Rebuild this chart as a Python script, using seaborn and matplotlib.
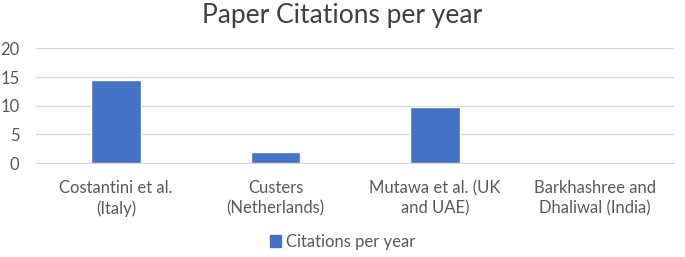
import pandas as pd
import seaborn as sns
import matplotlib.pyplot as plt
from matplotlib.patches import Patch

papers = ['Costantini et al.\n(Italy)', 'Custers\n(Netherlands)',
          'Mutawa et al. (UK\nand UAE)', 'Barkhashree and\nDhaliwal (India)']
citations = [14.5, 2.0, 9.7, 0.0]
series_name = 'Citations per year'

datos = pd.DataFrame({'paper': papers, 'citations': citations})

sns.set_style('white')
plt.rcParams['font.family'] = ['Lato', 'DejaVu Sans']

fig = plt.figure(figsize=(6.85, 2.57), dpi=100)
ax = fig.add_axes([0.0526, 0.365, 0.932, 0.447])

azul = '#4472C4'
sns.barplot(data=datos, x='paper', y='citations', color=azul, width=0.31,
            saturation=1, ax=ax, zorder=3)

ax.set_ylim(0, 20)
ax.set_yticks([0, 5, 10, 15, 20])
ax.yaxis.grid(True, color='#D9D9D9', linewidth=1, zorder=0)
ax.set_xlabel('')
ax.set_ylabel('')
for s in ['top', 'right', 'left']:
    ax.spines[s].set_visible(False)
ax.spines['bottom'].set_color('#D9D9D9')
ax.tick_params(axis='both', length=0, labelsize=12, labelcolor='#595959')
ax.tick_params(axis='x', pad=12)
ax.tick_params(axis='y', pad=12)
for lbl in ax.get_xticklabels():
    lbl.set_linespacing(1.35)
    lbl.set_horizontalalignment('center')

fig.suptitle('Paper Citations per year', fontsize=19, color='#404040', y=0.99)

fig.legend(handles=[Patch(color=azul, label=series_name)], loc='lower center',
           bbox_to_anchor=(0.5, -0.03), frameon=False, fontsize=12,
           labelcolor='#595959', handlelength=0.7, handleheight=0.7,
           handletextpad=0.3)

fig.savefig('out.png', dpi=100)
